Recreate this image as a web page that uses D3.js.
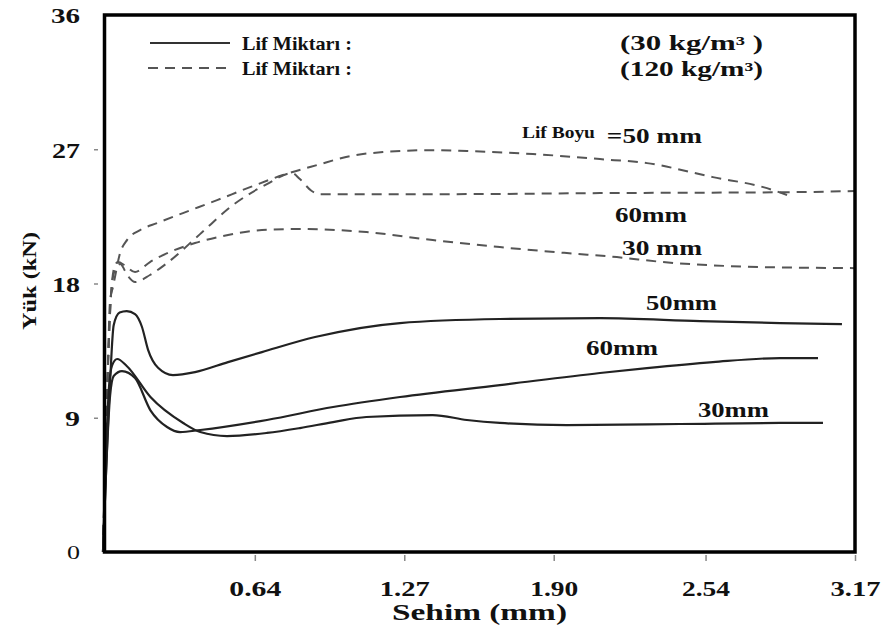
<!DOCTYPE html>
<html lang="tr">
<head>
    <meta charset="UTF-8">
    <title>Yük - Sehim</title>
    <style>
        body, html {
            margin: 0;
            padding: 0;
            background: #fff;
        }
        #chart {
            width: 884px;
            height: 635px;
        }
        text {
            font-family: "Liberation Serif", "Times New Roman", serif;
            font-weight: bold;
            fill: #111;
        }
    </style>
    <script src="https://d3js.org/d3.v7.min.js"></script>
</head>
<body>
    <div id="chart"></div>
    <script>
        // [Sehim (mm), Yük (kN)]
        // Lif Miktarı 30 kg/m3 (solid)
        const solid50 = [[0,0],[0.03,11.5],[0.045,15.2],[0.07,16.05],[0.1,16.15],[0.135,15.95],[0.164,15.1],[0.19,13.55],[0.232,12.35],[0.295,11.86],[0.388,12.06],[0.527,12.73],[0.67,13.4],[0.894,14.41],[1.252,15.35],[1.673,15.62],[2.095,15.68],[2.517,15.48],[2.854,15.35],[3.115,15.28]];
        const solid60 = [[0,0],[0.03,10.5],[0.045,11.8],[0.08,12.13],[0.135,11.66],[0.2,9.5],[0.27,8.38],[0.325,8.04],[0.41,8.18],[0.691,8.85],[0.97,9.72],[1.252,10.39],[1.673,11.19],[2.095,12.0],[2.293,12.33],[2.571,12.73],[2.854,13.0],[3.014,13.0]];
        const solid30 = [[0,0],[0.025,11.0],[0.038,12.5],[0.06,12.94],[0.1,12.47],[0.2,10.39],[0.338,8.65],[0.41,8.04],[0.523,7.77],[0.691,7.98],[0.83,8.31],[0.97,8.71],[1.11,9.05],[1.39,9.18],[1.534,8.85],[1.673,8.65],[1.955,8.51],[2.432,8.58],[2.854,8.65],[3.035,8.65]];
        // Lif Miktarı 120 kg/m3 (dashed)
        const dashed50 = [[0,0],[0.017,10.2],[0.03,16.9],[0.042,17.76],[0.072,20.04],[0.101,20.91],[0.156,21.58],[0.228,22.05],[0.337,22.72],[0.481,23.59],[0.62,24.46],[0.759,25.27],[0.902,25.94],[1.041,26.54],[1.18,26.81],[1.391,26.94],[1.534,26.88],[1.812,26.68],[2.095,26.34],[2.293,26.07],[2.571,25.13],[2.783,24.46],[2.909,23.79]];
        const dashed60 = [[0,0],[0.02,12],[0.035,17.5],[0.05,18.9],[0.072,19.3],[0.105,18.5],[0.135,18.1],[0.198,18.57],[0.27,19.37],[0.409,21.31],[0.548,23.26],[0.691,24.66],[0.797,25.4],[0.83,25.0],[0.88,24.2],[0.915,23.99],[1.46,23.99],[2.095,24.06],[2.94,24.13],[3.17,24.2]];
        const dashed30 = [[0,0],[0.02,12],[0.035,17.5],[0.05,19.2],[0.063,19.44],[0.093,19.2],[0.135,18.77],[0.198,19.44],[0.282,20.11],[0.388,20.71],[0.527,21.25],[0.67,21.58],[0.83,21.65],[1.11,21.45],[1.39,20.91],[1.673,20.44],[1.955,20.04],[2.166,19.77],[2.36,19.44],[2.783,19.1],[3.17,19.03]];

        const xTickValues = [0.64, 1.27, 1.90, 2.54, 3.17];
        const xTickLabels = ["0.64", "1.27", "1.90", "2.54", "3.17"];
        const yTickValues = [0, 9, 18, 27, 36];

        const width = 884, height = 635;
        const plot = { left: 103, right: 855, top: 15, bottom: 552 };

        const svg = d3.select("#chart").append("svg")
            .attr("width", width)
            .attr("height", height);

        const x = d3.scaleLinear().domain([0, 3.17]).range([plot.left, plot.right]);
        const y = d3.scaleLinear().domain([0, 36]).range([plot.bottom, plot.top]);

        const line = d3.line()
            .x(d => x(d[0]))
            .y(d => y(d[1]))
            .curve(d3.curveMonotoneX);

        // curves
        [dashed50, dashed60, dashed30].forEach(s => {
            svg.append("path")
                .datum(s)
                .attr("d", line)
                .attr("fill", "none")
                .attr("stroke", "#555")
                .attr("stroke-width", 2)
                .attr("stroke-dasharray", "10,7");
        });
        [solid50, solid60, solid30].forEach(s => {
            svg.append("path")
                .datum(s)
                .attr("d", line)
                .attr("fill", "none")
                .attr("stroke", "#222")
                .attr("stroke-width", 2.2);
        });

        // axes
        const xAxis = svg.append("g")
            .attr("transform", `translate(0,${plot.bottom})`)
            .call(d3.axisBottom(x).tickValues(xTickValues).tickFormat((d, i) => xTickLabels[i]).tickSize(0).tickPadding(30));
        xAxis.select(".domain").remove();
        xAxis.selectAll(".tick line")
            .attr("y1", 3).attr("y2", 9)
            .attr("stroke", "#888").attr("stroke-width", 1.5);
        xAxis.selectAll(".tick text")
            .attr("dy", null)
            .attr("y", 44)
            .attr("font-size", 21)
            .attr("textLength", (d, i) => [52, 50, 48, 48, 50][i])
            .attr("lengthAdjust", "spacingAndGlyphs")
            .style("font-family", "Liberation Serif")
            .style("font-weight", "bold")
            .attr("fill", "#111");

        const yAxis = svg.append("g")
            .attr("transform", `translate(${plot.left},0)`)
            .call(d3.axisLeft(y).tickValues(yTickValues).tickSize(0).tickPadding(23));
        yAxis.select(".domain").remove();
        yAxis.selectAll(".tick line")
            .attr("x1", d => (d === 0 || d === 36) ? 0 : -9)
            .attr("x2", d => (d === 0 || d === 36) ? 0 : -5)
            .attr("stroke", "#888").attr("stroke-width", 1.5);
        yAxis.selectAll(".tick text")
            .attr("dy", "0.36em")
            .attr("font-size", d => d === 0 ? 19 : 22)
            .attr("textLength", d => ({ 0: 13, 9: 15, 18: 28, 27: 28, 36: 29 })[d])
            .attr("lengthAdjust", "spacingAndGlyphs")
            .style("font-family", "Liberation Serif")
            .style("font-weight", d => d === 0 ? "normal" : "bold")
            .attr("fill", d => d === 0 ? "#777" : "#111");

        // frame
        svg.append("rect")
            .attr("x", plot.left + 1.5)
            .attr("y", plot.top)
            .attr("width", plot.right - plot.left - 1.5)
            .attr("height", plot.bottom - plot.top)
            .attr("fill", "none")
            .attr("stroke", "#000")
            .attr("stroke-width", 3.5);

        // axis titles
        svg.append("text")
            .attr("x", 392).attr("y", 620)
            .attr("font-size", 24)
            .attr("textLength", 175)
            .attr("lengthAdjust", "spacingAndGlyphs")
            .text("Sehim (mm)");

        svg.append("text")
            .attr("transform", "translate(36,330) rotate(-90)")
            .attr("font-size", 19)
            .attr("textLength", 98)
            .attr("lengthAdjust", "spacingAndGlyphs")
            .text("Yük (kN)");

        // legend
        svg.append("line")
            .attr("x1", 150).attr("x2", 230).attr("y1", 43).attr("y2", 43)
            .attr("stroke", "#333").attr("stroke-width", 2);
        svg.append("line")
            .attr("x1", 148).attr("x2", 233).attr("y1", 68).attr("y2", 68)
            .attr("stroke", "#555").attr("stroke-width", 2)
            .attr("stroke-dasharray", "10,7");
        [["Lif Miktarı :", 50], ["Lif Miktarı :", 75]].forEach(([t, yy]) => {
            svg.append("text")
                .attr("x", 242).attr("y", yy)
                .attr("font-size", 19)
                .attr("textLength", 110)
                .attr("lengthAdjust", "spacingAndGlyphs")
                .text(t);
        });
        [["(30 kg/m³  )", 50], ["(120 kg/m³)", 76]].forEach(([t, yy]) => {
            svg.append("text")
                .attr("x", 620).attr("y", yy)
                .attr("font-size", 20)
                .attr("textLength", 143)
                .attr("lengthAdjust", "spacingAndGlyphs")
                .text(t);
        });

        // curve labels [text, x, y, size, length]
        const curveLabels = [
            ["Lif Boyu", 1.766, 27.75, 16, 73],
            ["=50 mm", 2.124, 27.41, 22, 95],
            ["60mm", 2.158, 22.12, 20, 72],
            ["30 mm", 2.188, 19.91, 20, 80],
            ["50mm", 2.289, 16.22, 20, 71],
            ["60mm", 2.036, 13.2, 20, 72],
            ["30mm", 2.508, 9.05, 20, 71]
        ];
        curveLabels.forEach(([t, lx, ly, fs, tl]) => {
            svg.append("text")
                .attr("x", x(lx)).attr("y", y(ly))
                .attr("font-size", fs)
                .attr("textLength", tl)
                .attr("lengthAdjust", "spacingAndGlyphs")
                .text(t);
        });
    </script>
</body>
</html>
